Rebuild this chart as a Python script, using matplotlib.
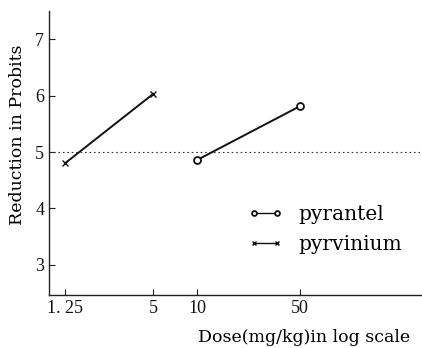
import matplotlib
matplotlib.use("Agg")
import matplotlib.pyplot as plt
from matplotlib.ticker import FixedLocator, NullLocator

# data
pyrantel_dose = [10, 50]
pyrantel_probit = [4.86, 5.81]
pyrvinium_dose = [1.25, 5]
pyrvinium_probit = [4.80, 6.03]
xtick_vals = [1.25, 5, 10, 50]
xtick_labels = ["1. 25", "5", "10", "50"]
ytick_vals = [3, 4, 5, 6, 7]
ref_level = 5

plt.rcParams['font.family'] = ["DejaVu Serif"]
TICKFONT = "Liberation Serif"

fig = plt.figure(figsize=(4.22, 3.48), dpi=100)
W, H = 422, 348
ax = fig.add_axes([49 / W, 1 - 294.7 / H, (422 - 49) / W, (294.7 - 11) / H])

ax.set_xscale('log')
ax.set_xlim(0.972, 342)
ax.set_ylim(2.47, 7.5)

ax.axhline(ref_level, color='#333333', lw=0.8, ls=(0, (1.5, 2.5)))

ax.plot(pyrantel_dose, pyrantel_probit, color='#111111', lw=1.4, marker='o',
        ms=5, mfc='white', mec='#111111', mew=1.3, label='pyrantel')
ax.plot(pyrvinium_dose, pyrvinium_probit, color='#111111', lw=1.4, marker='x',
        ms=4.5, mec='#111111', mew=1.0, label='pyrvinium')

for s in ['top', 'right']:
    ax.spines[s].set_visible(False)
for s in ['left', 'bottom']:
    ax.spines[s].set_linewidth(1.0)
    ax.spines[s].set_color('#222222')

ax.xaxis.set_major_locator(FixedLocator(xtick_vals))
ax.xaxis.set_minor_locator(NullLocator())
ax.set_xticklabels(xtick_labels)
ax.set_yticks(ytick_vals)
ax.tick_params(direction='in', length=4, width=0.8, colors='#222222',
               labelcolor='#111111', pad=3.5)
for lab in ax.get_xticklabels() + ax.get_yticklabels():
    lab.set_fontfamily(TICKFONT)
    lab.set_fontsize(13)

fig.text(18 / W, 1 - 135 / H, "Reduction in Probits", fontsize=12.5,
         rotation=90, ha='center', va='center')
fig.text(410 / W, 1 - 337 / H, "Dose(mg/kg)in log scale", fontsize=12.5,
         ha='right', va='center')

leg = ax.legend(loc='upper left', bbox_to_anchor=(248 / W, 1 - 205 / H),
                bbox_transform=fig.transFigure, frameon=False, fontsize=14.5,
                handlelength=1.75, handletextpad=0.75, labelspacing=0.55,
                numpoints=2, borderpad=0, borderaxespad=0)
for h in leg.legend_handles:
    h.set_markersize(3.5)
    h.set_linewidth(1.0)

fig.savefig("out.png", dpi=100)
